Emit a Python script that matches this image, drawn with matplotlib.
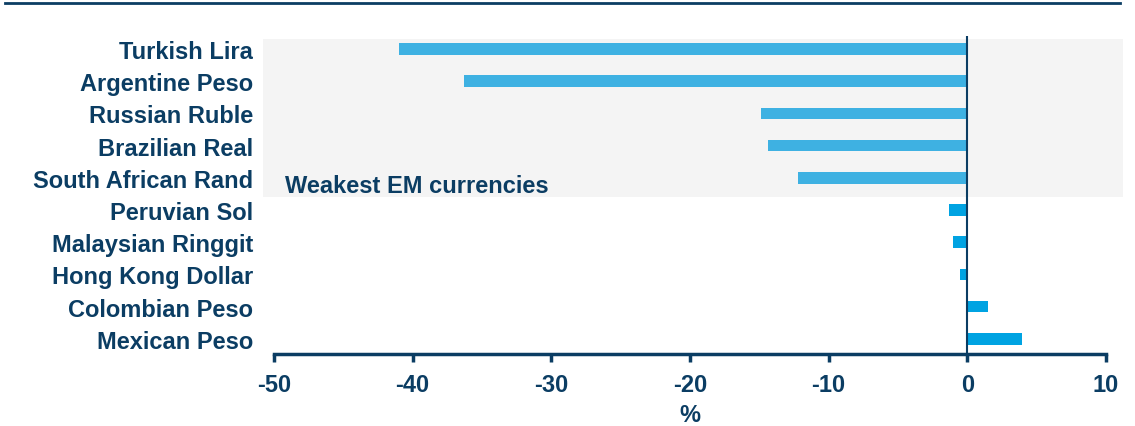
import matplotlib
matplotlib.use("Agg")
import matplotlib.pyplot as plt
from matplotlib.patches import Rectangle
from matplotlib.lines import Line2D

plt.rcParams['font.family'] = ['Liberation Sans', 'DejaVu Sans']

categories = ["Turkish Lira", "Argentine Peso", "Russian Ruble", "Brazilian Real",
              "South African Rand", "Peruvian Sol", "Malaysian Ringgit",
              "Hong Kong Dollar", "Colombian Peso", "Mexican Peso"]
values = [-41.0, -36.3, -14.85, -14.35, -12.2, -1.35, -1.0, -0.5, 1.5, 3.95]
xticks = [-50, -40, -30, -20, -10, 0, 10]
weakest_n = 5
annotation = "Weakest EM currencies"
xlabel = "%"

navy = "#0B3D63"
light_blue = "#3EB1E2"
blue = "#00A3E2"
fs = 17

fig = plt.figure(figsize=(11.35, 4.27), dpi=100)
ax = fig.add_axes([274/1135, 1-355/427, (1106-274)/1135, (355-37)/427])

ypos = list(range(len(categories)))
colors = [light_blue if i < weakest_n else blue for i in ypos]
ax.barh(ypos, values, height=0.36, color=colors, zorder=3)

ax.set_xlim(-50, 10)
ax.set_ylim(len(categories) - 1 + 0.47, -0.4)

# shaded region for weakest currencies
ax.add_patch(Rectangle((-50.8, -0.31), 62.05, 4.91, facecolor="#F4F4F4",
                       edgecolor="none", clip_on=False, zorder=0))
ax.text(-49.2, 4.25, annotation, fontsize=fs, fontweight="bold",
        color=navy, va="center", ha="left", zorder=4)

ax.axvline(0, color=navy, lw=1.5, zorder=4)

for s in ["top", "right", "left"]:
    ax.spines[s].set_visible(False)
ax.spines["bottom"].set_color(navy)
ax.spines["bottom"].set_linewidth(2.5)

ax.set_yticks(ypos)
ax.set_yticklabels(categories, fontsize=fs, fontweight="bold", color=navy)
ax.tick_params(axis="y", length=0, pad=15)
ax.set_xticks(xticks)
ax.set_xticklabels([str(t) for t in xticks], fontsize=fs, fontweight="bold", color=navy)
ax.tick_params(axis="x", direction="out", length=6, width=2.5, color=navy, pad=8)
ax.set_xlabel(xlabel, fontsize=fs, fontweight="bold", color=navy, labelpad=5)
ax.set_facecolor("none")

# top rule
fig.add_artist(Line2D([5/1135, 1120/1135], [1-4/427, 1-4/427], color=navy, lw=2,
                      transform=fig.transFigure))

fig.savefig("out.png", dpi=100)
